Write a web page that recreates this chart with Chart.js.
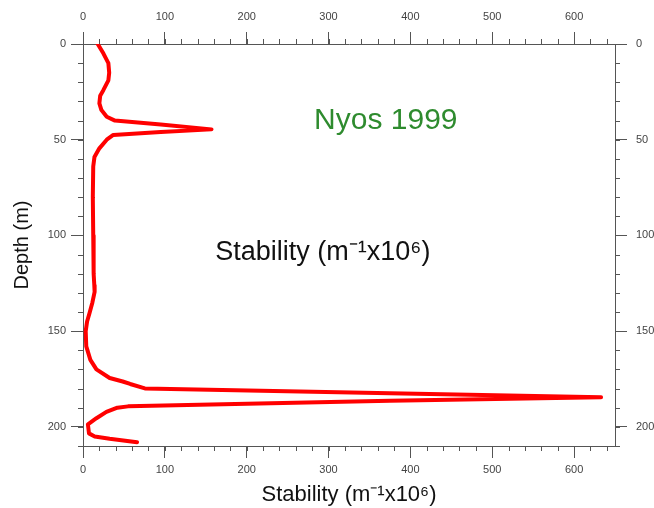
<!DOCTYPE html>
<html>
<head>
<meta charset="utf-8">
<script src="https://cdn.jsdelivr.net/npm/chart.js@4.4.1/dist/chart.umd.min.js"></script>
<style>
  html, body { margin: 0; padding: 0; background: #fff; }
  #wrap { width: 654px; height: 508px; position: relative; }
</style>
</head>
<body>
<div id="wrap"><canvas id="chart"></canvas></div>
<script>
// depth profile (m)
const depths = [0, 5, 10, 15, 19, 24, 27, 31, 34.5, 38, 40, 42, 44.6, 46, 47.5, 50, 54.5, 59, 64, 80,
  100, 120, 126, 129.5, 135, 140.5, 145, 150, 158, 165, 170, 174.5, 176.3, 177.6, 179.9, 182.4, 184.5, 186.4,
  189.3, 190, 192.2, 195.5, 198.7, 203.4, 205, 206.2, 208];
// stability (m-1 x 10^6) at each depth
const stability = [18, 25, 31, 32, 31, 25, 21, 20, 22.5, 29, 39, 95, 157, 95, 37, 29, 20, 14, 12.5, 12,
  12.5, 13, 13.8, 14.2, 11.5, 8, 5, 3.3, 4, 9, 16.4, 32.6, 48.5, 57.6, 75.6, 375, 633, 375,
  55, 42, 28.6, 16.4, 6, 7.3, 14.3, 32.6, 66];

const xTickValues = [0, 100, 200, 300, 400, 500, 600];
const yTickValues = [0, 50, 100, 150, 200];
const xRange = [0, 650];
const yRange = [0, 210];
const xMinorStep = 20;
const yMinorStep = 10;

const FONT = "'Liberation Sans', Arial, sans-serif";
const AXIS_COLOR = "#555";
const LABEL_COLOR = "#444";

const points = depths.map((d, i) => ({x: stability[i], y: d}));

function fixTicks(values) {
  return scale => {
    scale.ticks = values.map(v => ({value: v}));
  };
}

function axis(position, range, values, extra) {
  const horizontal = position === "top" || position === "bottom";
  return Object.assign({
    type: "linear",
    position,
    min: range[0],
    max: range[1],
    reverse: !horizontal,
    afterBuildTicks: fixTicks(values),
    grid: {
      drawOnChartArea: false,
      drawTicks: true,
      tickLength: 12,
      tickColor: AXIS_COLOR,
    },
    border: {display: true, color: AXIS_COLOR, width: 1},
  }, extra);
}

function tickFont(padding) {
  return {color: LABEL_COLOR, font: {family: FONT, size: 11}, padding, maxRotation: 0, autoSkip: false};
}

// minor ticks, drawn from the scales
const minorTicks = {
  id: "minorTicks",
  afterDraw(chart) {
    const {ctx, chartArea: a, scales} = chart;
    const len = 5;
    ctx.save();
    ctx.strokeStyle = AXIS_COLOR;
    ctx.lineWidth = 1;
    ctx.beginPath();
    for (let v = xRange[0]; v <= xRange[1]; v += xMinorStep) {
      const px = Math.round(scales.x.getPixelForValue(v)) + 0.5;
      ctx.moveTo(px, a.bottom);
      ctx.lineTo(px, a.bottom + len);
      ctx.moveTo(px, a.top);
      ctx.lineTo(px, a.top - len);
    }
    for (let v = yRange[0]; v <= yRange[1]; v += yMinorStep) {
      const py = Math.round(scales.y.getPixelForValue(v)) + 0.5;
      ctx.moveTo(a.left, py);
      ctx.lineTo(a.left - len, py);
      ctx.moveTo(a.right, py);
      ctx.lineTo(a.right + len, py);
    }
    ctx.stroke();
    ctx.restore();
  },
};

// text inside the plot, placed in data coordinates
const notes = {
  id: "notes",
  afterDraw(chart) {
    const {ctx, scales} = chart;
    ctx.save();
    ctx.textAlign = "center";
    ctx.textBaseline = "middle";
    ctx.fillStyle = "#2e8b2e";
    ctx.font = "30px " + FONT;
    ctx.fillText("Nyos 1999", scales.x.getPixelForValue(370), scales.y.getPixelForValue(40.3));
    ctx.fillStyle = "#111";
    ctx.font = "27px " + FONT;
    ctx.fillText("Stability (m\u207B\u00B9x10\u2076)", scales.x.getPixelForValue(293), scales.y.getPixelForValue(109));
    ctx.restore();
  },
};

new Chart(document.getElementById("chart"), {
  type: "line",
  data: {
    datasets: [{
      label: "Stability",
      data: points,
      xAxisID: "x",
      yAxisID: "y",
      borderColor: "#ff0000",
      borderWidth: 4,
      pointRadius: 0,
      tension: 0,
      borderJoinStyle: "round",
      borderCapStyle: "round",
      fill: false,
    }],
  },
  options: {
    responsive: true,
    maintainAspectRatio: false,
    animation: false,
    layout: {padding: 0},
    plugins: {legend: {display: false}, tooltip: {enabled: false}},
    scales: {
      x: axis("bottom", xRange, xTickValues, {
        afterFit: s => { s.height = 62; },
        ticks: tickFont(5),
        title: {
          display: true,
          text: "Stability (m\u207B\u00B9x10\u2076)",
          color: "#111",
          font: {family: FONT, size: 22},
          padding: {top: 0, bottom: 0},
        },
      }),
      x2: axis("top", xRange, xTickValues, {
        afterFit: s => { s.height = 44; },
        ticks: tickFont(8),
      }),
      y: axis("left", yRange, yTickValues, {
        afterFit: s => { s.width = 83; },
        ticks: tickFont(5),
        title: {
          display: true,
          text: "Depth (m)",
          color: "#111",
          font: {family: FONT, size: 20},
          padding: {top: 10, bottom: 0},
        },
      }),
      y2: axis("right", yRange, yTickValues, {
        afterFit: s => { s.width = 39; },
        ticks: tickFont(9),
      }),
    },
  },
  plugins: [minorTicks, notes],
});
</script>
</body>
</html>
